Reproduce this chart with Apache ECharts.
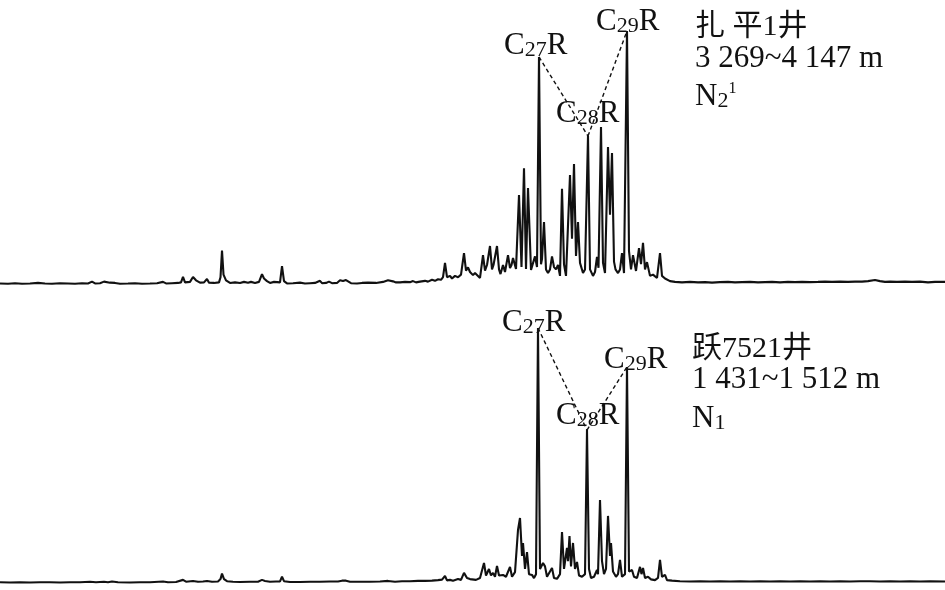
<!DOCTYPE html>
<html><head><meta charset="utf-8">
<script src="https://cdn.jsdelivr.net/npm/echarts@6/dist/echarts.min.js"></script>
<style>html,body{margin:0;padding:0;background:#fff}#c{width:945px;height:590px}</style>
</head><body><div id="c"></div>
<script>
// Retention position (relative units) and relative intensity (% of largest peak)
const traceTop = [
[0,0.6],[8,0.5],[15,0.7],[22,0.5],[30,0.6],[38,0.8],[45,0.6],[52,0.5],[60,0.7],[68,0.6],[75,0.5],[82,0.7],[88,0.6],[92,1.3],[95,0.6],[100,0.7],[104,1.3],[106,0.7],[110,0.9],[112,1.5],[115,0.8],[120,0.5],[128,0.6],[135,0.7],[142,0.5],[150,0.6],[157,0.7],[163,1.2],[166,0.6],[172,0.7],[178,0.8],[181,1.0],[183,3.1],[185,1.0],[190,1.2],[193,3.1],[196,1.8],[200,0.9],[204,1.0],[207,2.3],[209,0.9],[214,0.8],[219,1.0],[220.5,3],[222,13.2],[223.5,4],[226,1.8],[230,0.8],[235,1.0],[240,0.8],[244,1.2],[248,0.9],[251,1.2],[255,0.8],[259,1.2],[262,4.2],[264,2.5],[267,1.5],[270,0.8],[274,1.2],[276,0.9],[280,1.0],[282,7.3],[284,1.5],[287,0.6],[293,0.7],[300,0.9],[305,0.6],[310,0.7],[315,0.8],[320,1.6],[322,0.7],[326,0.8],[329,1.3],[332,0.7],[337,0.8],[340,1.8],[343,1.5],[346,1.9],[348,1.2],[351,0.7],[357,0.6],[362,0.8],[368,0.9],[370,0.5],[376,0.8],[383,1.2],[388,1.8],[390,1.2],[393,1.4],[396,1.0],[400,1.0],[405,1.2],[410,1.1],[413,1.5],[416,1.0],[420,1.3],[425,1.6],[428,1.3],[432,2.0],[435,1.6],[438,2.2],[441,2.0],[443,3.0],[445,8.5],[447,3.0],[450,3.5],[452,2.5],[455,3.5],[458,3.0],[461,4.0],[464,12.3],[466,5.5],[468,6.8],[470,5.0],[473,3.8],[475,4.6],[480,2.7],[483,11.5],[485,5.5],[487,7.7],[490,15.0],[492,6.0],[493.5,7.7],[497,15.0],[499,6.0],[500.5,4.2],[503,7.7],[505,5.0],[508,11.5],[510,6.5],[511.5,7.7],[513,10.4],[516,6.2],[519,34.6],[521.5,6.9],[524,44.9],[526,6.2],[528,37.3],[531,5.8],[533,6.5],[535,11.0],[537,6.9],[539,87.7],[541,8.0],[542,10.0],[544,24.2],[546,6.0],[548,4.6],[550,6.0],[552,11.0],[554,6.9],[556,6.0],[558,7.7],[560,3.5],[562,37.0],[564,8.0],[566,3.5],[570,42.3],[572,17.8],[574,46.5],[576,11.2],[578,24.2],[580,8.5],[583,4.6],[585,6.0],[588,57.3],[590,6.0],[593,3.5],[595,5.0],[597,10.8],[598.5,6.6],[601,60.8],[603,8.5],[605,4.6],[608,53.1],[610,27.0],[612,50.8],[614,9.0],[615.5,6.0],[618,4.6],[620,6.0],[622,12.3],[624,4.6],[627,97.7],[629,13.0],[631,6.0],[633,11.5],[636,5.4],[639,14.2],[641,8.0],[643,16.2],[645,6.0],[647,8.8],[650,3.5],[653,4.0],[657,2.7],[660,12.3],[662,3.5],[665,2.5],[670,1.5],[675,1.2],[682,1.0],[690,1.2],[698,1.0],[705,1.1],[712,0.9],[720,1.1],[728,1.2],[735,1.0],[742,1.1],[750,1.2],[758,1.0],[765,1.1],[772,1.2],[780,1.0],[788,1.2],[795,1.1],[802,1.2],[810,1.1],[818,1.2],[825,1.3],[832,1.2],[840,1.3],[848,1.2],[855,1.3],[862,1.3],[868,1.5],[875,1.9],[880,1.5],[885,1.2],[890,1.3],[897,1.2],[905,1.3],[912,1.2],[920,1.3],[928,1.0],[935,1.2],[945,1.2]
];
const traceBottom = [
[0,0.3],[10,0.2],[20,0.3],[30,0.2],[40,0.3],[50,0.3],[60,0.2],[70,0.3],[80,0.3],[90,0.5],[96,0.3],[104,0.5],[108,0.3],[112,0.6],[118,0.3],[130,0.2],[140,0.3],[150,0.3],[163,0.6],[168,0.3],[176,0.4],[183,1.2],[186,0.5],[193,0.8],[198,0.5],[203,0.6],[207,0.8],[212,0.5],[218,0.6],[220.5,1.5],[222,3.6],[224,1.5],[227,0.7],[233,0.5],[240,0.4],[250,0.5],[258,0.5],[262,1.2],[265,0.8],[270,0.5],[276,0.6],[280,0.6],[282,2.4],[284,0.7],[290,0.4],[300,0.4],[310,0.5],[320,0.5],[330,0.6],[338,0.6],[342,0.9],[346,0.9],[350,0.5],[360,0.5],[370,0.5],[380,0.6],[388,0.8],[395,0.5],[402,0.7],[410,0.7],[418,0.8],[425,0.8],[432,0.9],[438,1.1],[442,1.3],[445,2.7],[447,1.0],[450,1.2],[453,0.9],[458,1.5],[461,1.2],[464,3.9],[467,1.9],[470,1.5],[472,2.2],[476,1.2],[480,1.9],[484,7.7],[486,2.9],[489,5.4],[491,2.9],[493,3.9],[495,2.4],[497,6.6],[499,2.9],[503,3.1],[506,2.4],[510,6.2],[512,2.4],[515,4.2],[517,4.4],[518,20.4],[520,25.0],[522,10.4],[523,15.4],[525,5.4],[527,11.9],[529,3.4],[532,3.1],[534,1.9],[536,3.4],[538,98.1],[540,5.4],[543,7.7],[545,6.4],[547,2.4],[549,1.9],[552,5.8],[554,1.9],[557,1.6],[560,3.4],[562,19.6],[564,5.4],[567,13.5],[568,8.4],[569.5,18.1],[571,6.4],[573,15.4],[575,5.4],[577,8.1],[579,2.9],[582,2.4],[585,3.4],[587,58.8],[589,5.4],[591,1.9],[594,2.4],[597,5.0],[598,3.4],[600,31.9],[602,8.4],[604,3.4],[606,5.4],[608,25.8],[610,10.4],[611,15.4],[613,4.4],[616,2.4],[618,3.4],[620,8.9],[622,2.4],[625,3.4],[627,83.1],[629,4.4],[632,5.0],[634,2.4],[637,1.9],[640,6.2],[641.5,3.4],[643,5.8],[645,1.9],[648,2.4],[651,1.4],[655,1.1],[658,2.0],[660,8.9],[662,2.4],[665,3.1],[667,1.1],[672,0.9],[680,0.7],[690,0.6],[700,0.7],[710,0.6],[720,0.7],[730,0.6],[740,0.7],[750,0.6],[760,0.7],[770,0.6],[780,0.7],[790,0.6],[800,0.7],[810,0.6],[820,0.7],[830,0.6],[840,0.7],[850,0.6],[860,0.7],[870,0.7],[880,0.6],[890,0.7],[900,0.6],[910,0.7],[920,0.6],[930,0.7],[945,0.6]
];
// Marked steranes: C27R, C28R, C29R (position, intensity)
const steranesTop = [[539,87.7],[588,57.3],[627,97.7]];
const steranesBottom = [[538,98.1],[587,58.8],[627,83.1]];
const steraneNames = ['27','28','29'];
const wellTop = ['扎 平1井','3 269~4 147 m'];
const wellBottom = ['跃7521井','1 431~1 512 m'];

const SERIF = '"Liberation Serif","Times New Roman",serif';
const CJK = '"Liberation Serif","Noto Sans CJK SC",serif';
const FS = 31, FSS = 22;

function dashedPath(pts){
  return [
    [{coord:pts[0]},{coord:pts[1]}],
    [{coord:pts[1]},{coord:pts[2]}]
  ];
}
function steraneText(sub, x, y){
  return {type:'text', x:x, y:y, style:{
    text:'{n|C}{s|'+sub+'}{n|R}', verticalAlign:'bottom', align:'left',
    rich:{n:{fontFamily:SERIF,fontSize:FS,lineHeight:FS,verticalAlign:'bottom',fill:'#111'},
          s:{fontFamily:SERIF,fontSize:FSS,lineHeight:FS,verticalAlign:'bottom',fill:'#111'}}
  }};
}
function plainText(t, x, y, font, fs){
  return {type:'text', x:x, y:y, style:{text:t, fontFamily:font, fontSize:fs, fill:'#111', verticalAlign:'bottom', align:'left'}};
}

const chart = echarts.init(document.getElementById('c'), null, {renderer:'canvas'});
const lineStyle = {color:'#111', width:2.1};
const dash = {color:'#111', type:[4,3], width:1.4};
chart.setOption({
  animation:false,
  backgroundColor:'#fff',
  grid:[{left:0,right:0,top:25,height:260},{left:0,right:0,top:323,height:260}],
  xAxis:[{type:'value',gridIndex:0,min:0,max:945,show:false},{type:'value',gridIndex:1,min:0,max:945,show:false}],
  yAxis:[{type:'value',gridIndex:0,min:0,max:100,show:false},{type:'value',gridIndex:1,min:0,max:100,show:false}],
  series:[
    {type:'line',xAxisIndex:0,yAxisIndex:0,data:traceTop,symbol:'none',lineStyle:lineStyle,
     markLine:{silent:true,symbol:'none',label:{show:false},lineStyle:dash,data:dashedPath(steranesTop)}},
    {type:'line',xAxisIndex:1,yAxisIndex:1,data:traceBottom,symbol:'none',lineStyle:lineStyle,
     markLine:{silent:true,symbol:'none',label:{show:false},lineStyle:dash,data:dashedPath(steranesBottom)}}
  ],
  graphic:[
    steraneText(steraneNames[0],504,61),
    steraneText(steraneNames[1],556,129),
    steraneText(steraneNames[2],596,37),
    steraneText(steraneNames[0],502,338),
    steraneText(steraneNames[1],556,431),
    steraneText(steraneNames[2],604,375),
    plainText(wellTop[0],695,42,CJK,30),
    plainText(wellTop[1],695,74,SERIF,FS),
    {type:'text',x:695,y:112,style:{text:'{n|N}{s|2}{p|1}',verticalAlign:'bottom',align:'left',
      rich:{n:{fontFamily:SERIF,fontSize:FS,lineHeight:FS,verticalAlign:'bottom',fill:'#111'},
            s:{fontFamily:SERIF,fontSize:FSS,lineHeight:FS,verticalAlign:'bottom',fill:'#111'},
            p:{fontFamily:SERIF,fontSize:16,lineHeight:FS,verticalAlign:'top',fill:'#111'}}}},
    plainText(wellBottom[0],692,364,CJK,30),
    plainText(wellBottom[1],692,395,SERIF,FS),
    {type:'text',x:692,y:434,style:{text:'{n|N}{s|1}',verticalAlign:'bottom',align:'left',
      rich:{n:{fontFamily:SERIF,fontSize:FS,lineHeight:FS,verticalAlign:'bottom',fill:'#111'},
            s:{fontFamily:SERIF,fontSize:FSS,lineHeight:FS,verticalAlign:'bottom',fill:'#111'}}}}
  ]
});
</script></body></html>
